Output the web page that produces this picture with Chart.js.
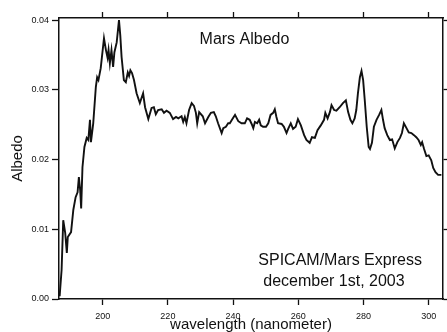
<!DOCTYPE html>
<html>
<head>
<meta charset="utf-8">
<script src="https://cdn.jsdelivr.net/npm/chart.js@4.4.1/dist/chart.umd.min.js"></script>
<style>
  html, body { margin: 0; padding: 0; background: #fff; }
  #wrap { width: 447px; height: 332px; position: relative; }
</style>
</head>
<body>
<div id="wrap"><canvas id="chart" width="447" height="332"></canvas></div>
<script>
// wavelength (nm) and albedo
const wavelength = [
  186.8, 187.4, 187.9, 188.5, 189.0, 189.3, 190.3, 191.0, 191.7, 192.3,
  192.7, 193.1, 193.4, 193.8, 194.4, 195.1, 195.6, 196.1, 196.4, 197.1,
  197.9, 198.3, 198.7, 199.4, 200.4, 201.0, 201.5, 201.8, 202.2, 202.7,
  203.2, 203.6, 204.3, 205.0, 205.4, 205.8, 206.5, 207.1, 207.7, 208.1,
  208.5, 209.0, 209.6, 210.4, 211.4, 212.4, 213.0, 214.0, 215.0, 215.7,
  216.3, 217.0, 218.1, 218.8, 219.6, 220.6, 221.6, 222.5, 223.2, 224.2,
  224.7, 225.2, 225.7, 226.5, 227.3, 228.0, 228.6, 229.0, 229.6, 230.7,
  231.4, 232.4, 233.2, 234.1, 234.7, 235.4, 236.5, 237.0, 237.8, 238.5,
  239.0, 239.8, 240.6, 241.6, 242.6, 243.6, 244.3, 245.1, 245.7, 246.2,
  246.7, 247.4, 248.0, 248.5, 249.2, 250.1, 250.8, 251.5, 252.3, 252.8,
  253.3, 253.8, 254.9, 255.6, 256.4, 256.9, 257.7, 258.4, 259.2, 259.9,
  260.8, 261.8, 262.5, 263.5, 264.2, 265.1, 265.9, 266.9, 267.9, 268.3,
  269.0, 269.7, 270.2, 271.0, 271.7, 272.7, 273.7, 274.6, 275.3, 276.0,
  276.6, 277.3, 277.8, 278.3, 278.9, 279.4, 279.9, 280.4, 281.0, 281.6,
  282.0, 282.6, 283.2, 284.0, 284.8, 285.5, 286.0, 286.5, 287.3, 288.1,
  288.8, 289.6, 290.4, 291.2, 291.8, 292.4, 293.2, 293.9, 294.7, 295.5,
  296.2, 296.9, 297.6, 298.0, 298.6, 299.3, 300.0, 300.8, 301.4, 302.1,
  302.9, 303.9
];
const albedo = [
  0.0004, 0.0042, 0.0113, 0.0095, 0.0066, 0.0089, 0.0096, 0.0128, 0.0146, 0.0153,
  0.0175, 0.0156, 0.0130, 0.0189, 0.0218, 0.0231, 0.0228, 0.0257, 0.0225, 0.0252,
  0.0304, 0.0318, 0.0314, 0.0331, 0.0374, 0.0357, 0.0346, 0.0357, 0.0338, 0.0357,
  0.0333, 0.0354, 0.0368, 0.0400, 0.0378, 0.0347, 0.0314, 0.0311, 0.0325, 0.0320,
  0.0328, 0.0324, 0.0314, 0.0295, 0.0281, 0.0295, 0.0275, 0.0258, 0.0274, 0.0275,
  0.0265, 0.0271, 0.0272, 0.0267, 0.0270, 0.0267, 0.0258, 0.0261, 0.0259, 0.0262,
  0.0254, 0.0261, 0.0252, 0.0271, 0.0281, 0.0277, 0.0267, 0.0252, 0.0268, 0.0262,
  0.0252, 0.0261, 0.0267, 0.0268, 0.0262, 0.0252, 0.0238, 0.0245, 0.0247, 0.0252,
  0.0252, 0.0258, 0.0264, 0.0255, 0.0252, 0.0252, 0.0259, 0.0257, 0.0251, 0.0245,
  0.0254, 0.0252, 0.0257, 0.0249, 0.0247, 0.0247, 0.0252, 0.0264, 0.0267, 0.0272,
  0.0261, 0.0252, 0.0251, 0.0247, 0.0238, 0.0244, 0.0252, 0.0244, 0.0247, 0.0258,
  0.0249, 0.0235, 0.0228, 0.0224, 0.0232, 0.0231, 0.0242, 0.0249, 0.0257, 0.0267,
  0.0259, 0.0268, 0.0278, 0.0271, 0.0270, 0.0275, 0.0281, 0.0285, 0.0268, 0.0257,
  0.0252, 0.0259, 0.0271, 0.0295, 0.0318, 0.0327, 0.0314, 0.0285, 0.0247, 0.0218,
  0.0215, 0.0224, 0.0247, 0.0257, 0.0264, 0.0271, 0.0257, 0.0245, 0.0235, 0.0228,
  0.0229, 0.0216, 0.0225, 0.0231, 0.0238, 0.0252, 0.0245, 0.0239, 0.0238, 0.0235,
  0.0232, 0.0228, 0.0221, 0.0225, 0.0215, 0.0205, 0.0206, 0.0199, 0.0188, 0.0182,
  0.0178, 0.0178
];
const xTicks = [200, 220, 240, 260, 280, 300];
const yTicks = [0.00, 0.01, 0.02, 0.03, 0.04];

const FONT = "'Liberation Sans', Arial, sans-serif";
Chart.defaults.font.family = FONT;
Chart.defaults.color = '#111';

// text written inside the plot frame
const notes = [
  { text: 'Mars Albedo', fx: 0.483, fy: 0.078 },
  { text: 'SPICAM/Mars Express', fx: 0.732, fy: 0.865 },
  { text: 'december 1st, 2003', fx: 0.716, fy: 0.937 }
];

const notesPlugin = {
  id: 'notes',
  afterDraw(chart) {
    const { ctx, chartArea: a } = chart;
    ctx.save();
    ctx.fillStyle = '#111';
    ctx.font = '16px ' + FONT;
    ctx.textAlign = 'center';
    ctx.textBaseline = 'middle';
    notes.forEach(n => {
      ctx.fillText(n.text, a.left + n.fx * (a.right - a.left), a.top + n.fy * (a.bottom - a.top));
    });
    ctx.restore();
  }
};

const setTicks = list => scale => { scale.ticks = list.map(v => ({ value: v })); };

const frame = { display: true, color: '#111', width: 1.5 };
const tickMarks = (len) => ({ drawOnChartArea: false, drawTicks: true, tickLength: len, color: '#111', tickWidth: 1.3 });

new Chart(document.getElementById('chart').getContext('2d'), {
  type: 'line',
  data: {
    datasets: [{
      data: wavelength.map((w, i) => ({ x: w, y: albedo[i] })),
      borderColor: '#111',
      borderWidth: 1.9,
      pointRadius: 0,
      tension: 0,
      fill: false
    }]
  },
  options: {
    responsive: false,
    animation: false,
    layout: { padding: { top: 10, right: 0, left: 0, bottom: 0 } },
    plugins: { legend: { display: false }, tooltip: { enabled: false } },
    scales: {
      x: {
        type: 'linear',
        min: 186.6,
        max: 304.4,
        afterBuildTicks: setTicks(xTicks),
        afterFit: s => { s.height = 33; },
        border: frame,
        grid: tickMarks(6),
        ticks: { padding: 6, font: { size: 9 }, maxRotation: 0, callback: v => String(v) },
        title: { display: true, text: 'wavelength (nanometer)', font: { size: 15 }, padding: { top: 0, bottom: -2 } }
      },
      xTop: {
        type: 'linear',
        position: 'top',
        min: 186.6,
        max: 304.4,
        afterBuildTicks: setTicks(xTicks),
        afterFit: s => { s.height = 8; },
        border: frame,
        grid: tickMarks(6),
        ticks: { display: false }
      },
      y: {
        min: 0,
        max: 0.0403,
        afterBuildTicks: setTicks(yTicks),
        afterFit: s => { s.width = 59; },
        border: frame,
        grid: tickMarks(7),
        ticks: { padding: 3, font: { size: 9 }, callback: v => v.toFixed(2) },
        title: { display: true, text: 'Albedo', font: { size: 15 }, padding: { top: 9, bottom: 0 } }
      },
      yRight: {
        position: 'right',
        min: 0,
        max: 0.0403,
        afterBuildTicks: setTicks(yTicks),
        afterFit: s => { s.width = 4; },
        border: frame,
        grid: tickMarks(4),
        ticks: { display: false }
      }
    }
  },
  plugins: [notesPlugin]
});
</script>
</body>
</html>
